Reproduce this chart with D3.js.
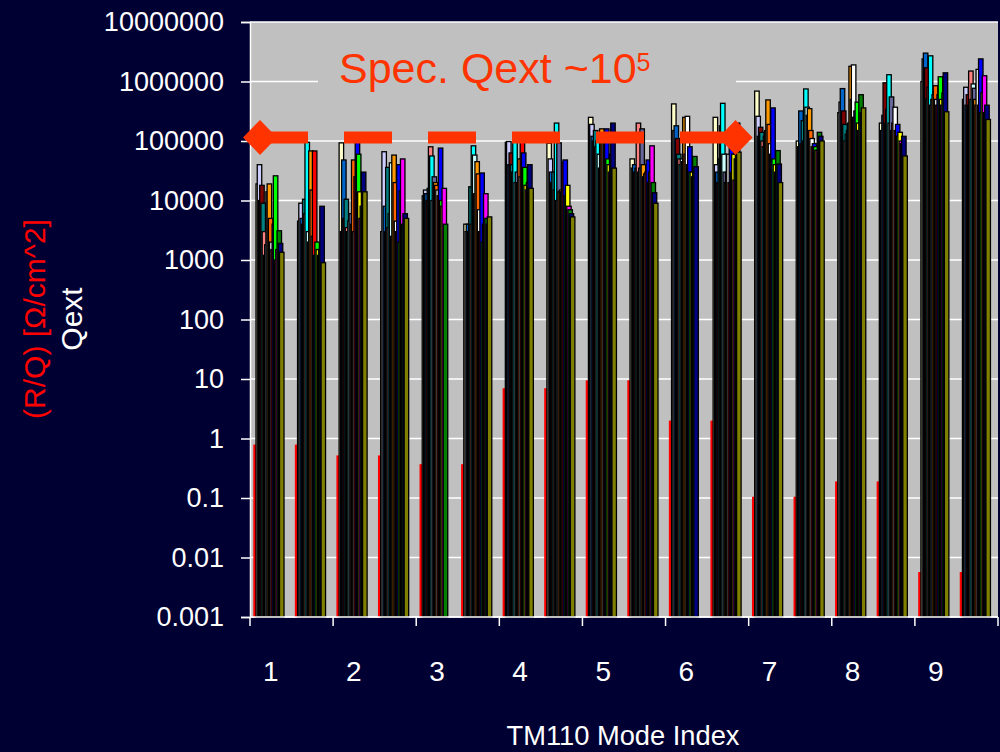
<!DOCTYPE html>
<html>
<head>
<meta charset="utf-8">
<script src="https://cdn.jsdelivr.net/npm/d3@7"></script>
<style>
  body { margin: 0; background: #000033; }
  text { font-family: Arial, "Liberation Sans", sans-serif; }
</style>
</head>
<body>
<div id="chart"></div>
<script>
// Data
var modes = ["1", "2", "3", "4", "5", "6", "7", "8", "9"];
var pols = ["a", "b"];
var yTickValues = [0.001, 0.01, 0.1, 1, 10, 100, 1000, 10000, 100000, 1000000, 10000000];
var yTickLabels = ["0.001", "0.01", "0.1", "1", "10", "100", "1000", "10000", "100000", "1000000", "10000000"];

// R/Q (red bars), one per polarisation
var rqPolA = [0.79, 0.52, 0.37, 7.0, 9.5, 2.0, 0.105, 0.19, 0.0057];
var rqPolB = [0.79, 0.52, 0.37, 7.0, 9.5, 2.0, 0.105, 0.19, 0.0057];

// Qext series colours (drawn left to right, last one in front)
var seriesColors = ["#FFFFCC", "#CCCCFF", "#0066CC", "#800000", "#008080", "#FF8080", "#00FFFF",
  "#CCFFFF", "#666699", "#FF9900", "#FF6600", "#FFFFFF", "#FF0000", "#0000FF", "#00FF00",
  "#FFFF00", "#FF00FF", "#008000", "#000080", "#808000"];

// Qext per mode: [polarisation a, polarisation b]
var qextMode1 = [
  [1.9e4, 4.0e4, 1.0e4, 1.8e4, 9.0e3, 3.0e3, 1.2e3, 1.8e3, 1.4e4, 1.9e4, 5.0e3, 2.0e3, 1.5e3, 4.0e3, 2.6e4, 1.0e3, 1.5e3, 3.1e3, 1.9e3, 1.35e3],
  [4.5e3, 9.0e3, 5.0e3, 4.0e3, 1.05e4, 6.0e3, 9.5e4, 3.0e3, 2.0e3, 6.8e4, 1.5e4, 2.5e3, 6.8e4, 1.2e3, 2.0e3, 1.5e3, 1.2e3, 1.5e3, 8.0e3, 900]];
var qextMode2 = [
  [9.3e4, 3.0e3, 4.8e4, 5.0e3, 1.05e4, 3.5e3, 3.0e3, 4.5e3, 6.0e3, 4.0e3, 4.8e4, 3.0e3, 2.5e4, 1.0e5, 6.0e4, 1.4e4, 5.0e3, 8.0e3, 3.0e4, 1.4e4],
  [3.0e3, 6.6e4, 8.0e3, 3.0e3, 3.6e4, 3.5e3, 6.0e3, 4.3e4, 2.5e3, 5.8e4, 2.0e4, 4.5e3, 3.0e3, 4.0e4, 2.0e3, 1.45e4, 5.0e4, 4.0e3, 6.0e3, 5.0e3]];
var qextMode3 = [
  [1.2e4, 1.5e4, 1.3e4, 1.0e4, 1.6e4, 8.0e4, 5.6e4, 1.0e4, 2.5e4, 2.0e4, 1.8e4, 1.5e4, 1.2e4, 7.6e4, 1.0e4, 8.0e3, 1.6e4, 4.0e3, null, null],
  [4.0e3, 3.0e3, 4.0e3, 3.0e3, 1.7e4, 4.0e3, 8.3e4, 5.8e4, 1.3e4, 4.5e4, 2.8e4, 7.0e3, 3.0e3, 2.9e4, 2.0e3, 4.0e3, 1.3e4, 5.0e3, 4.0e3, 5.3e3]];
var qextMode4 = [
  [9.5e4, 9.8e4, 4.0e4, 6.3e4, 4.0e4, 3.0e4, 1.0e5, 2.0e4, 3.0e4, 2.0e4, 5.0e4, 2.5e4, 9.5e4, 6.3e4, 3.6e4, 1.8e4, 1.5e4, 2.0e4, 4.0e4, 1.6e4],
  [9.2e4, 5.0e4, 3.0e4, 2.0e4, 3.0e4, 1.5e4, 2.0e5, 1.0e4, 9.3e4, 1.4e4, 1.5e4, 1.4e4, 4.4e4, 4.8e4, 1.2e4, 1.8e4, 8.0e3, 7.0e3, 6.0e3, 5.3e3]];
var qextMode5 = [
  [2.5e5, 1.9e5, 1.2e5, 1.0e5, 1.5e5, 8.0e4, 1.0e5, 6.0e4, 3.5e4, 1.6e5, 1.2e5, 1.0e5, 9.0e4, 1.6e5, 5.0e4, 4.0e4, 3.0e4, 6.0e4, 2.0e5, 3.5e4],
  [5.0e4, 3.5e4, 4.0e4, 3.0e4, 3.5e4, 2.0e5, 3.0e4, 3.5e4, 1.6e5, 4.0e4, 2.5e4, 2.8e4, 3.0e4, 4.8e4, 2.0e4, 3.0e4, 8.3e4, 2.0e4, 1.35e4, 9.0e3]];
var qextMode6 = [
  [4.2e5, 1.5e5, 1.8e5, 1.1e5, 6.0e4, 5.0e4, 4.0e4, 5.0e4, 4.5e4, 2.5e5, 6.0e4, 2.6e5, 4.0e4, 8.0e4, 3.0e4, 3.0e4, 2.5e4, 5.5e4, 3.7e4, null],
  [2.5e5, 4.0e4, 3.0e4, 2.0e4, 5.0e4, 1.8e5, 4.3e5, 6.0e4, 3.0e4, 2.0e4, 3.0e4, 6.0e4, 2.0e4, 8.3e4, 3.0e4, 6.0e4, 2.2e4, 5.0e4, 2.0e5, 6.5e4]];
var qextMode7 = [
  [6.9e5, 2.6e5, 1.2e5, 1.7e5, 1.4e5, 1.0e5, 8.0e4, 1.2e5, 1.5e5, 4.9e5, 1.9e5, 9.0e4, 6.0e4, 3.6e5, 5.0e4, 4.0e4, 3.0e4, 6.9e4, 4.1e4, 2.0e4],
  [1.0e5, 8.0e4, 3.2e5, 9.0e4, 2.2e5, 1.0e5, 7.5e5, 3.7e5, 2.7e5, 3.5e5, 1.5e5, 1.1e5, 8.0e4, 9.0e4, 8.0e4, 7.0e4, 7.0e4, 1.4e5, 1.2e5, 1.0e5]];
var qextMode8 = [
  [3.0e5, 4.5e5, 7.6e5, 3.2e5, 1.9e5, 1.0e5, 1.3e5, 1.5e5, 2.0e5, 1.8e6, 5.0e5, 1.9e6, 2.5e5, 3.2e5, 4.5e5, 2.0e5, 1.5e5, 6.0e5, 3.0e5, 3.6e5],
  [2.0e5, 1.5e5, 2.7e5, 9.5e5, 2.0e5, 3.4e5, 1.3e6, 2.0e5, 5.5e5, 1.5e5, 2.0e5, 3.7e5, 1.5e5, 1.9e5, 1.2e5, 1.4e5, 1.0e5, 9.0e4, 1.2e5, 5.6e4]];
var qextMode9 = [
  [1.0e6, 2.4e6, 3.0e6, 1.7e6, 5.1e5, 8.0e5, 2.7e6, 4.0e5, 5.0e5, 6.0e5, 8.5e5, 5.0e5, 4.0e5, 6.0e5, 1.2e6, 5.0e5, 4.0e5, 6.4e5, 1.4e6, 3.1e5],
  [5.0e5, 8.0e5, 4.0e5, 6.0e5, 4.0e5, 1.5e6, 5.0e5, 9.1e5, 7.7e5, 5.0e5, 4.0e5, 1.6e6, 4.0e5, 2.4e6, 3.0e5, 6.5e5, 1.25e6, 3.0e5, 4.0e5, 2.3e5]];

var qextAll = [qextMode1, qextMode2, qextMode3, qextMode4, qextMode5, qextMode6, qextMode7, qextMode8, qextMode9];
var specQext = 1.15e5;

// Set Up Space
var svgWidth = 1000;
var svgHeight = 752;
var margin = { top: 22, right: 2, bottom: 135, left: 250 };
var width = svgWidth - margin.left - margin.right;
var height = svgHeight - margin.top - margin.bottom;

var svg = d3.select("#chart")
  .append("svg")
  .attr("width", svgWidth)
  .attr("height", svgHeight);

svg.append("rect")
  .attr("width", svgWidth)
  .attr("height", svgHeight)
  .attr("fill", "#000033");

var chartGroup = svg.append("g")
  .attr("transform", `translate(${margin.left}, ${margin.top})`);

// Scales
var xScale = d3.scaleBand().domain(modes).range([0, width]);
var xSub = d3.scaleBand().domain(pols).range([0, xScale.bandwidth()]);
var barW = 4.5;
var xSeries = d3.scalePoint().domain(d3.range(seriesColors.length)).range([6, 34 - barW]);
var yScale = d3.scaleLog().domain([0.001, 1e7]).range([height, 0]);

// Plot area + gridlines
chartGroup.append("rect")
  .attr("width", width)
  .attr("height", height)
  .attr("fill", "#C0C0C0");

chartGroup.selectAll(".grid")
  .data(yTickValues)
  .enter()
  .append("line")
  .attr("x1", 0)
  .attr("x2", width)
  .attr("y1", d => yScale(d))
  .attr("y2", d => yScale(d))
  .attr("stroke", "#FFFFFF")
  .attr("stroke-width", 1.5);

// Text box behind the annotation (hides the gridline)
chartGroup.append("rect")
  .attr("x", 68)
  .attr("y", 22)
  .attr("width", 418)
  .attr("height", 75)
  .attr("fill", "#C0C0C0");

// Flatten data
var barData = [];
var rqData = [];
modes.forEach(function(m, i) {
  pols.forEach(function(p, j) {
    rqData.push({ mode: m, pol: p, value: (j === 0 ? rqPolA : rqPolB)[i] });
    qextAll[i][j].forEach(function(v, k) {
      if (v != null) barData.push({ mode: m, pol: p, series: k, value: v });
    });
  });
});

// R/Q bars
chartGroup.selectAll(".rq")
  .data(rqData)
  .enter()
  .append("rect")
  .attr("x", d => xScale(d.mode) + xSub(d.pol) + 3.3)
  .attr("width", 2.8)
  .attr("y", d => yScale(d.value))
  .attr("height", d => height - yScale(d.value))
  .attr("fill", "#FF0000");

// Qext bars, series order so the last series is in front
barData.sort((a, b) => a.series - b.series);
chartGroup.selectAll(".qext")
  .data(barData)
  .enter()
  .append("rect")
  .attr("x", d => xScale(d.mode) + xSub(d.pol) + xSeries(d.series))
  .attr("width", barW)
  .attr("y", d => yScale(d.value))
  .attr("height", d => height - yScale(d.value))
  .attr("fill", d => seriesColors[d.series])
  .attr("stroke", "#000000")
  .attr("stroke-width", 1.3);

// Y axis
var leftAxis = d3.axisLeft(yScale)
  .tickValues(yTickValues)
  .tickFormat((d, i) => yTickLabels[i])
  .tickSize(9)
  .tickPadding(17);

var yAxisG = chartGroup.append("g").call(leftAxis);
yAxisG.select(".domain").attr("stroke", "#FFFFFF").attr("stroke-width", 1.5);
yAxisG.selectAll(".tick line").attr("stroke", "#FFFFFF").attr("stroke-width", 1.5);
yAxisG.selectAll(".tick text")
  .attr("fill", "#FFFFFF")
  .attr("font-size", 27)
  .attr("font-family", "Arial, 'Liberation Sans', sans-serif");

// X axis
chartGroup.append("line")
  .attr("x1", 0).attr("x2", width)
  .attr("y1", height).attr("y2", height)
  .attr("stroke", "#FFFFFF").attr("stroke-width", 1.5);

var xBounds = modes.map(m => xScale(m)).concat([width]);
chartGroup.selectAll(".xtick")
  .data(xBounds)
  .enter()
  .append("line")
  .attr("x1", d => d).attr("x2", d => d)
  .attr("y1", height).attr("y2", height + 9)
  .attr("stroke", "#FFFFFF").attr("stroke-width", 1.5);

chartGroup.selectAll(".xlabel")
  .data(modes)
  .enter()
  .append("text")
  .attr("x", d => xScale(d) + xSub.bandwidth() / 2)
  .attr("y", height + 64)
  .attr("text-anchor", "middle")
  .attr("fill", "#FFFFFF")
  .attr("font-size", 28)
  .text(d => d);

// Axis titles
chartGroup.append("text")
  .attr("x", 373)
  .attr("y", height + 128)
  .attr("text-anchor", "middle")
  .attr("fill", "#FFFFFF")
  .attr("font-size", 28)
  .attr("textLength", 233)
  .attr("lengthAdjust", "spacingAndGlyphs")
  .text("TM110 Mode Index");

var yTitle = svg.append("text")
  .attr("transform", "translate(0, 319) rotate(-90)")
  .attr("text-anchor", "middle")
  .attr("font-size", 30);
yTitle.append("tspan")
  .attr("x", 0)
  .attr("y", 45)
  .attr("fill", "#FF0000")
  .text("(R/Q) [\u03A9/cm^2]");
yTitle.append("tspan")
  .attr("x", 0)
  .attr("y", 82)
  .attr("fill", "#FFFFFF")
  .text("Qext");

// Annotation: spec line with arrows
var specColor = "#FF3300";
var specY = yScale(specQext);
var arrowX1 = xScale("1") + 10;
var arrowX2 = xScale("6") + 70;

chartGroup.append("line")
  .attr("x1", arrowX1).attr("x2", arrowX2)
  .attr("y1", specY).attr("y2", specY)
  .attr("stroke", specColor)
  .attr("stroke-width", 12)
  .attr("stroke-dasharray", "48 36");

[arrowX1, arrowX2].forEach(function(cx) {
  chartGroup.append("path")
    .attr("d", `M${cx - 17},${specY} L${cx},${specY - 17.5} L${cx + 17},${specY} L${cx},${specY + 17.5} Z`)
    .attr("fill", specColor);
});

var specText = chartGroup.append("text")
  .attr("x", 89)
  .attr("y", 61)
  .attr("fill", specColor)
  .attr("font-size", 43);
specText.append("tspan").text("Spec. Qext ~10");
specText.append("tspan")
  .attr("font-size", 25)
  .attr("dy", -12)
  .text("5");
</script>
</body>
</html>
